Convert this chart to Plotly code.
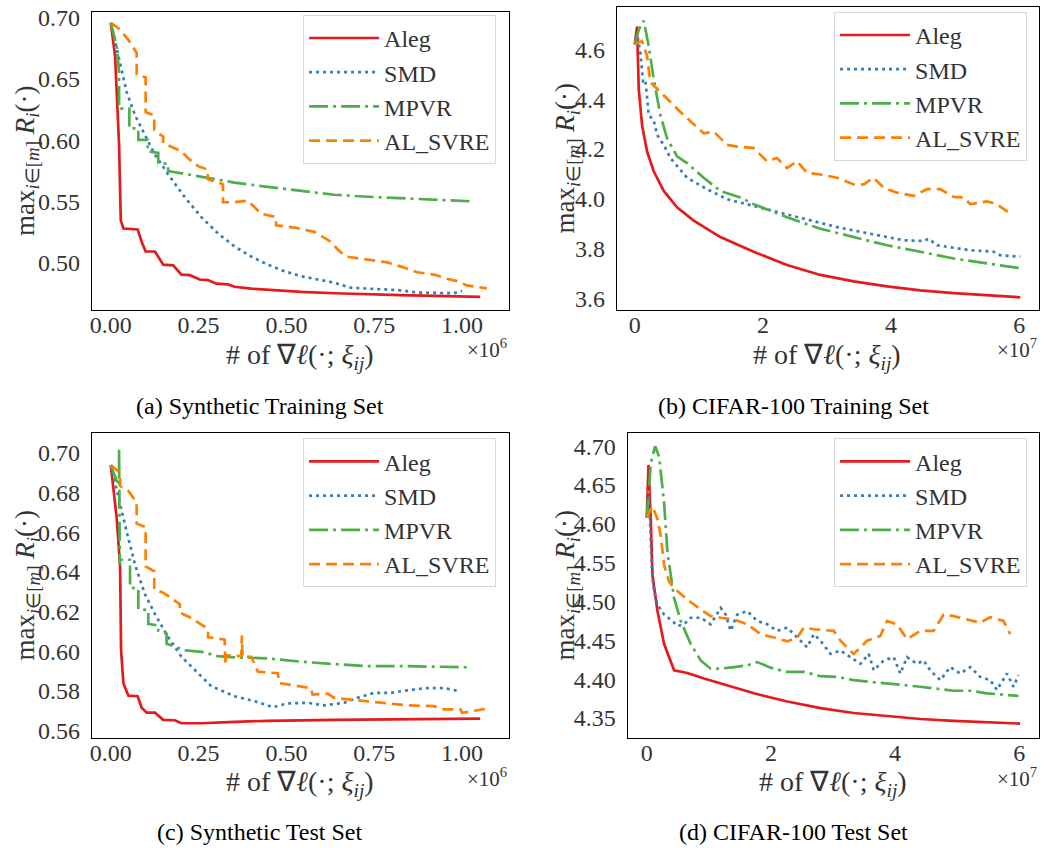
import plotly.graph_objects as go

# ---------------- data (x in units of 1e6 for Synthetic, 1e7 for CIFAR-100) -------------
series_names = ["Aleg", "SMD", "MPVR", "AL_SVRE"]
series_colors = ["#e41a1c", "#377eb8", "#4daf4a", "#ff7f00"]
series_dashes = ["solid", "3px,4px", "19px,5px,3px,5px", "11px,6px"]

# (a) Synthetic Training Set
a_aleg_x = [0, 0.0123, 0.0236, 0.0284, 0.0359, 0.0766, 0.0879, 0.0992, 0.1257, 0.1493, 0.1777, 0.2013,
            0.2250, 0.2533, 0.2769, 0.3006, 0.3336, 0.3526, 0.3998, 0.4471, 0.5416, 0.6361, 0.8251, 1.052]
a_aleg_y = [0.6957, 0.6684, 0.5963, 0.5348, 0.5281, 0.5273, 0.5174, 0.5094, 0.5094, 0.4987, 0.4981, 0.4906,
            0.4901, 0.4866, 0.4861, 0.4832, 0.4826, 0.4807, 0.4791, 0.4781, 0.4765, 0.4754, 0.4738, 0.4725]
a_smd_x = [0, 0.0265, 0.0454, 0.0690, 0.0974, 0.1257, 0.1635, 0.2108, 0.2580, 0.3053, 0.3526, 0.3998,
           0.4471, 0.4943, 0.5416, 0.6361, 0.6834, 0.7306, 0.8251, 0.8724, 0.9197, 0.9764, 1.0000]
a_smd_y = [0.6957, 0.6631, 0.6390, 0.6203, 0.6043, 0.5882, 0.5722, 0.5535, 0.5374, 0.5241, 0.5134, 0.5053,
           0.4987, 0.4933, 0.4893, 0.4840, 0.4799, 0.4791, 0.4778, 0.4759, 0.4754, 0.4754, 0.4773]
a_mpvr_x = [0, 0.0170, 0.0236, 0.0236, 0.0529, 0.0529, 0.0784, 0.0784, 0.1049, 0.1049, 0.1352, 0.1352,
            0.1635, 0.1635, 0.1919, 0.2297, 0.2769, 0.3526, 0.4471, 0.5416, 0.6361, 0.7306, 0.8724, 1.0236]
a_mpvr_y = [0.6957, 0.6765, 0.6551, 0.6257, 0.6257, 0.6096, 0.6096, 0.6003, 0.6003, 0.5909, 0.5896, 0.5816,
            0.5807, 0.5749, 0.5735, 0.5717, 0.5695, 0.5655, 0.5620, 0.5588, 0.5556, 0.5540, 0.5521, 0.5503]
a_alsvre_x = [0, 0.0217, 0.0501, 0.0737, 0.0737, 0.0992, 0.0992, 0.1238, 0.1238, 0.1493, 0.1493, 0.2013,
              0.2250, 0.2486, 0.2750, 0.2769, 0.3195, 0.3195, 0.3526, 0.3904, 0.4045, 0.4282, 0.4707, 0.4707,
              0.5227, 0.5794, 0.6267, 0.6456, 0.6692, 0.7306, 0.7873, 0.8251, 0.8724, 0.9197, 0.9575, 0.9858,
              1.0142, 1.0709]
a_alsvre_y = [0.6957, 0.6912, 0.6818, 0.6711, 0.6537, 0.6511, 0.6230, 0.6203, 0.6083, 0.6029, 0.5976, 0.5909,
              0.5842, 0.5789, 0.5762, 0.5682, 0.5642, 0.5495, 0.5495, 0.5508, 0.5468, 0.5401, 0.5374, 0.5307,
              0.5289, 0.5254, 0.5174, 0.5112, 0.5053, 0.5027, 0.5005, 0.4973, 0.4925, 0.4906, 0.4872, 0.4853,
              0.4818, 0.4794]

# (b) CIFAR-100 Training Set
b_aleg_x = [0, 0.036, 0.062, 0.114, 0.192, 0.296, 0.452, 0.660, 0.920, 1.336, 1.856, 2.376, 2.897, 3.417,
            3.937, 4.457, 4.977, 5.497, 6.017]
b_aleg_y = [4.620, 4.692, 4.441, 4.296, 4.190, 4.111, 4.032, 3.966, 3.913, 3.847, 3.788, 3.735, 3.695, 3.669,
            3.649, 3.633, 3.622, 3.613, 3.605]
b_smd_x = [0, 0.047, 0.088, 0.130, 0.166, 0.218, 0.296, 0.348, 0.452, 0.556, 0.816, 1.128, 1.440, 1.752,
           2.116, 2.636, 3.157, 3.677, 4.197, 4.509, 4.587, 4.717, 5.237, 5.601, 5.705, 6.017]
b_smd_y = [4.620, 4.646, 4.587, 4.468, 4.475, 4.336, 4.316, 4.257, 4.217, 4.164, 4.085, 4.039, 3.999, 3.979,
           3.953, 3.920, 3.887, 3.860, 3.834, 3.831, 3.840, 3.814, 3.794, 3.788, 3.774, 3.768]
b_mpvr_x = [0, 0.062, 0.140, 0.218, 0.296, 0.400, 0.504, 0.660, 0.816, 1.076, 1.336, 1.648, 1.856, 2.376,
            2.897, 3.417, 3.937, 4.457, 4.977, 5.497, 6.017]
b_mpvr_y = [4.620, 4.679, 4.715, 4.613, 4.481, 4.336, 4.243, 4.171, 4.144, 4.085, 4.032, 4.006, 3.979, 3.926,
            3.880, 3.847, 3.814, 3.788, 3.761, 3.741, 3.722]
b_alsvre_x = [0, 0.114, 0.192, 0.244, 0.296, 0.452, 0.712, 1.076, 1.232, 1.440, 1.596, 1.856, 2.064, 2.220,
              2.376, 2.532, 2.688, 2.897, 3.157, 3.417, 3.573, 3.729, 3.885, 4.093, 4.353, 4.561, 4.769, 4.977,
              5.133, 5.237, 5.497, 5.653, 5.835]
b_alsvre_y = [4.620, 4.633, 4.574, 4.468, 4.455, 4.415, 4.349, 4.263, 4.270, 4.217, 4.210, 4.204, 4.151, 4.164,
              4.124, 4.151, 4.105, 4.098, 4.085, 4.058, 4.058, 4.085, 4.045, 4.025, 4.012, 4.039, 4.039, 4.008,
              4.006, 3.979, 3.990, 3.979, 3.946]

# (c) Synthetic Test Set
c_aleg_x = [0, 0.0170, 0.0265, 0.0293, 0.0359, 0.0501, 0.0766, 0.0879, 0.1021, 0.1257, 0.1493, 0.1824,
            0.2013, 0.2580, 0.3526, 0.4471, 0.6361, 0.8251, 1.0520]
c_aleg_y = [0.6939, 0.6669, 0.6428, 0.6006, 0.5840, 0.5777, 0.5774, 0.5716, 0.5691, 0.5691, 0.5655, 0.5653,
            0.5638, 0.5638, 0.5645, 0.5650, 0.5655, 0.5658, 0.5661]
c_smd_x = [0, 0.0312, 0.0454, 0.0690, 0.0974, 0.1257, 0.1635, 0.2013, 0.2391, 0.2864, 0.3526, 0.4093,
           0.4612, 0.5038, 0.5605, 0.6078, 0.6645, 0.7023, 0.7495, 0.7968, 0.8440, 0.9008, 0.9480, 0.9953]
c_smd_y = [0.6939, 0.6702, 0.6602, 0.6437, 0.6288, 0.6188, 0.6072, 0.5973, 0.5907, 0.5824, 0.5774, 0.5749,
           0.5719, 0.5738, 0.5741, 0.5728, 0.5741, 0.5766, 0.5791, 0.5791, 0.5804, 0.5815, 0.5815, 0.5799]
c_mpvr_x = [0, 0.0170, 0.0236, 0.0236, 0.0255, 0.0255, 0.0548, 0.0548, 0.0784, 0.0784, 0.1068, 0.1068,
            0.1352, 0.1352, 0.1588, 0.1588, 0.2108, 0.2580, 0.3053, 0.3526, 0.4471, 0.5416, 0.6361, 0.7306,
            0.8251, 0.9197, 1.0236]
c_mpvr_y = [0.6939, 0.6859, 0.6851, 0.7025, 0.6437, 0.6462, 0.6462, 0.6321, 0.6317, 0.6213, 0.6208, 0.6139,
            0.6130, 0.6105, 0.6089, 0.6039, 0.6006, 0.5998, 0.5976, 0.5970, 0.5965, 0.5948, 0.5936, 0.5926,
            0.5926, 0.5923, 0.5920]
c_alsvre_x = [0, 0.0265, 0.0265, 0.0501, 0.0737, 0.0737, 0.0992, 0.0992, 0.1238, 0.1238, 0.1493, 0.1966,
              0.1966, 0.2250, 0.2769, 0.2769, 0.3242, 0.3261, 0.3289, 0.3715, 0.3733, 0.3752, 0.3998, 0.4187,
              0.4754, 0.4802, 0.5699, 0.5747, 0.6172, 0.6361, 0.6834, 0.7306, 0.7779, 0.8440, 0.9197, 0.9480,
              0.9953, 1.0000, 1.0709]
c_alsvre_y = [0.6939, 0.6901, 0.6834, 0.6809, 0.6751, 0.6644, 0.6627, 0.6428, 0.6404, 0.6312, 0.6296, 0.6238,
              0.6196, 0.6172, 0.6114, 0.6072, 0.6059, 0.5931, 0.5981, 0.5976, 0.6080, 0.5973, 0.5973, 0.5898,
              0.5890, 0.5840, 0.5815, 0.5782, 0.5787, 0.5766, 0.5757, 0.5749, 0.5741, 0.5728, 0.5724, 0.5708,
              0.5708, 0.5691, 0.5711]

# (d) CIFAR-100 Test Set
d_aleg_x = [0, 0.027, 0.064, 0.091, 0.172, 0.279, 0.440, 0.654, 0.922, 1.190, 1.727, 2.263, 2.799, 3.335,
            3.871, 4.408, 4.944, 5.480, 6.016]
d_aleg_y = [4.6082, 4.6759, 4.6061, 4.5341, 4.4876, 4.4452, 4.4114, 4.4080, 4.4008, 4.3945, 4.3818, 4.3712,
            4.3627, 4.3564, 4.3521, 4.3487, 4.3462, 4.3445, 4.3428]
d_smd_x = [0, 0.038, 0.075, 0.091, 0.118, 0.172, 0.279, 0.413, 0.493, 0.601, 0.708, 0.869, 1.029, 1.190,
           1.271, 1.351, 1.458, 1.619, 1.780, 1.941, 2.102, 2.263, 2.424, 2.584, 2.692, 2.799, 2.960, 3.121,
           3.282, 3.442, 3.576, 3.657, 3.818, 3.979, 4.086, 4.193, 4.354, 4.461, 4.568, 4.729, 4.890, 5.051,
           5.212, 5.373, 5.534, 5.641, 5.802, 5.909, 5.989]
d_smd_y = [4.6082, 4.6357, 4.5553, 4.5299, 4.5129, 4.4960, 4.4833, 4.4749, 4.4685, 4.4706, 4.4791, 4.4791,
           4.4706, 4.4918, 4.4833, 4.4622, 4.4833, 4.4876, 4.4749, 4.4706, 4.4622, 4.4664, 4.4537, 4.4410,
           4.4579, 4.4495, 4.4325, 4.4368, 4.4283, 4.4198, 4.4325, 4.4114, 4.4241, 4.4283, 4.4072, 4.4283,
           4.4198, 4.4241, 4.4114, 4.3987, 4.4156, 4.4072, 4.4156, 4.4029, 4.3987, 4.3860, 4.4072, 4.3902,
           4.4050]
d_mpvr_x = [0, 0.064, 0.134, 0.198, 0.279, 0.332, 0.440, 0.547, 0.708, 0.869, 1.029, 1.190, 1.405, 1.619,
            1.780, 1.995, 2.263, 2.531, 2.799, 3.067, 3.335, 3.871, 4.408, 4.944, 5.212, 5.480, 5.989]
d_mpvr_y = [4.6082, 4.6780, 4.7000, 4.6865, 4.6272, 4.5637, 4.5045, 4.4749, 4.4452, 4.4241, 4.4135, 4.4135,
            4.4156, 4.4177, 4.4220, 4.4148, 4.4093, 4.4093, 4.4038, 4.4029, 4.3987, 4.3945, 4.3902, 4.3851,
            4.3851, 4.3818, 4.3784]
d_alsvre_x = [0, 0.091, 0.172, 0.225, 0.279, 0.359, 0.440, 0.654, 0.869, 1.029, 1.190, 1.405, 1.619, 1.834,
              2.048, 2.263, 2.424, 2.531, 2.692, 3.013, 3.121, 3.335, 3.550, 3.764, 3.871, 4.032, 4.193, 4.408,
              4.622, 4.783, 4.944, 5.158, 5.373, 5.534, 5.748, 5.855]
d_alsvre_y = [4.6082, 4.6230, 4.6061, 4.5849, 4.5468, 4.5256, 4.5172, 4.5024, 4.4897, 4.4812, 4.4791, 4.4770,
              4.4706, 4.4579, 4.4537, 4.4486, 4.4537, 4.4664, 4.4643, 4.4622, 4.4495, 4.4325, 4.4495, 4.4558,
              4.4749, 4.4706, 4.4516, 4.4622, 4.4622, 4.4833, 4.4812, 4.4770, 4.4727, 4.4799, 4.4749, 4.4579]

panel_data = [
    [(a_aleg_x, a_aleg_y), (a_smd_x, a_smd_y), (a_mpvr_x, a_mpvr_y), (a_alsvre_x, a_alsvre_y)],
    [(b_aleg_x, b_aleg_y), (b_smd_x, b_smd_y), (b_mpvr_x, b_mpvr_y), (b_alsvre_x, b_alsvre_y)],
    [(c_aleg_x, c_aleg_y), (c_smd_x, c_smd_y), (c_mpvr_x, c_mpvr_y), (c_alsvre_x, c_alsvre_y)],
    [(d_aleg_x, d_aleg_y), (d_smd_x, d_smd_y), (d_mpvr_x, d_mpvr_y), (d_alsvre_x, d_alsvre_y)],
]
captions = ["(a) Synthetic Training Set", "(b) CIFAR-100 Training Set",
            "(c) Synthetic Test Set", "(d) CIFAR-100 Test Set"]
x_exponents = ["6", "7", "6", "7"]

# ---------------- layout geometry (pixels in 1050x854 canvas) ----------------
W, H = 1050, 854
FONT = "Liberation Serif"
TXT = "#333333"
# left, right, top, bottom of each plot box
boxes = [(90, 508, 5, 308), (616, 1039, 0, 308), (90, 508, 433, 742), (627, 1039, 433, 742)]
x_ranges = [[-0.054, 1.134], [-0.28, 6.31], [-0.054, 1.134], [-0.306, 6.32]]
y_ranges = [[0.4615, 0.7045], [3.553, 4.770], [0.5565, 0.7099], [4.3246, 4.7165]]
x_ticks = [[0, 0.25, 0.5, 0.75, 1.0], [0, 2, 4, 6], [0, 0.25, 0.5, 0.75, 1.0], [0, 2, 4, 6]]
x_fmt = [".2f", "d", ".2f", "d"]
y_ticks = [[0.50, 0.55, 0.60, 0.65, 0.70], [3.6, 3.8, 4.0, 4.2, 4.4, 4.6],
           [0.56, 0.58, 0.60, 0.62, 0.64, 0.66, 0.68, 0.70],
           [4.35, 4.40, 4.45, 4.50, 4.55, 4.60, 4.65, 4.70]]
y_fmt = [".2f", ".1f", ".2f", ".2f"]
legend_pos = [(495, 8), (1027, 5), (495, 438), (1027, 438)]
ytitle_x = [25, 566, 25, 566]
xtitle_pos = [(299, 355), (827, 355), (299, 788), (833, 788)]
exp_y = [347, 347, 782, 782]
caption_pos = [(258, 405), (793, 405), (258, 838), (793, 838)]


def px(x):
    return x / W


def py(y):
    return 1 - y / H


fig = go.Figure()
legend_ids = ["legend", "legend2", "legend3", "legend4"]

for p in range(4):
    suffix = "" if p == 0 else str(p + 1)
    for s in range(4):
        xs, ys = panel_data[p][s]
        fig.add_trace(go.Scatter(
            x=xs, y=ys, mode="lines", name=series_names[s],
            line=dict(color=series_colors[s], width=2.7, dash=series_dashes[s]),
            xaxis="x" + suffix, yaxis="y" + suffix, legend=legend_ids[p],
        ))

layout = dict(
    width=W, height=H, margin=dict(l=0, r=0, t=0, b=0),
    plot_bgcolor="white", paper_bgcolor="white",
    font=dict(family=FONT, size=24, color=TXT),
    annotations=[],
)

for p in range(4):
    suffix = "" if p == 0 else str(p + 1)
    l, r, t, b = boxes[p]
    layout["xaxis" + suffix] = dict(
        domain=[px(l), px(r)], range=x_ranges[p], anchor="y" + suffix,
        tickvals=x_ticks[p], tickformat=x_fmt[p], showgrid=False, zeroline=False,
        showline=True, mirror=True, linecolor="black", linewidth=1.3,
        ticks="", ticklabelstandoff=-7, ticklabeloverflow="allow",
        tickfont=dict(family=FONT, size=24, color=TXT),
    )
    layout["yaxis" + suffix] = dict(
        domain=[py(b), py(t)], range=y_ranges[p], anchor="x" + suffix,
        tickvals=y_ticks[p], tickformat=y_fmt[p], showgrid=False, zeroline=False,
        showline=True, mirror=True, linecolor="black", linewidth=1.3,
        ticks="", ticklabelstandoff=6, ticklabeloverflow="allow",
        tickfont=dict(family=FONT, size=24, color=TXT),
    )
    lx, ly = legend_pos[p]
    layout[legend_ids[p]] = dict(
        x=px(lx), y=py(ly), xanchor="right", yanchor="top",
        bgcolor="rgba(255,255,255,0.85)", bordercolor="#d9d9d9", borderwidth=1,
        font=dict(family=FONT, size=24, color=TXT), tracegroupgap=0,
        itemwidth=70,
    )
    # y title
    layout["annotations"].append(dict(
        x=px(ytitle_x[p]), y=py((t + b) / 2), xref="paper", yref="paper",
        text="max<sub><i>i</i>∈[<i>m</i>]</sub> <i>R<sub>i</sub></i>(·)",
        textangle=-90, showarrow=False, xanchor="center", yanchor="middle",
        font=dict(family=FONT, size=27, color=TXT),
    ))
    # x title
    xt, yt = xtitle_pos[p]
    layout["annotations"].append(dict(
        x=px(xt), y=py(yt), xref="paper", yref="paper",
        text="# of ∇<i>ℓ</i>(·; <i>ξ<sub>ij</sub></i>)",
        showarrow=False, xanchor="center", yanchor="middle",
        font=dict(family=FONT, size=28, color=TXT),
    ))
    # exponent
    layout["annotations"].append(dict(
        x=px(r), y=py(exp_y[p]), xref="paper", yref="paper",
        text="×10<sup>" + x_exponents[p] + "</sup>", showarrow=False,
        xanchor="right", yanchor="middle",
        font=dict(family=FONT, size=21, color=TXT),
    ))
    # caption
    cx, cy = caption_pos[p]
    layout["annotations"].append(dict(
        x=px(cx), y=py(cy), xref="paper", yref="paper", text=captions[p],
        showarrow=False, xanchor="center", yanchor="middle",
        font=dict(family=FONT, size=24, color="black"),
    ))

fig.update_layout(**layout)
fig.write_html("out.html", config={"displayModeBar": False},
               post_script="document.body.style.margin='0';document.body.style.overflow='hidden';")
